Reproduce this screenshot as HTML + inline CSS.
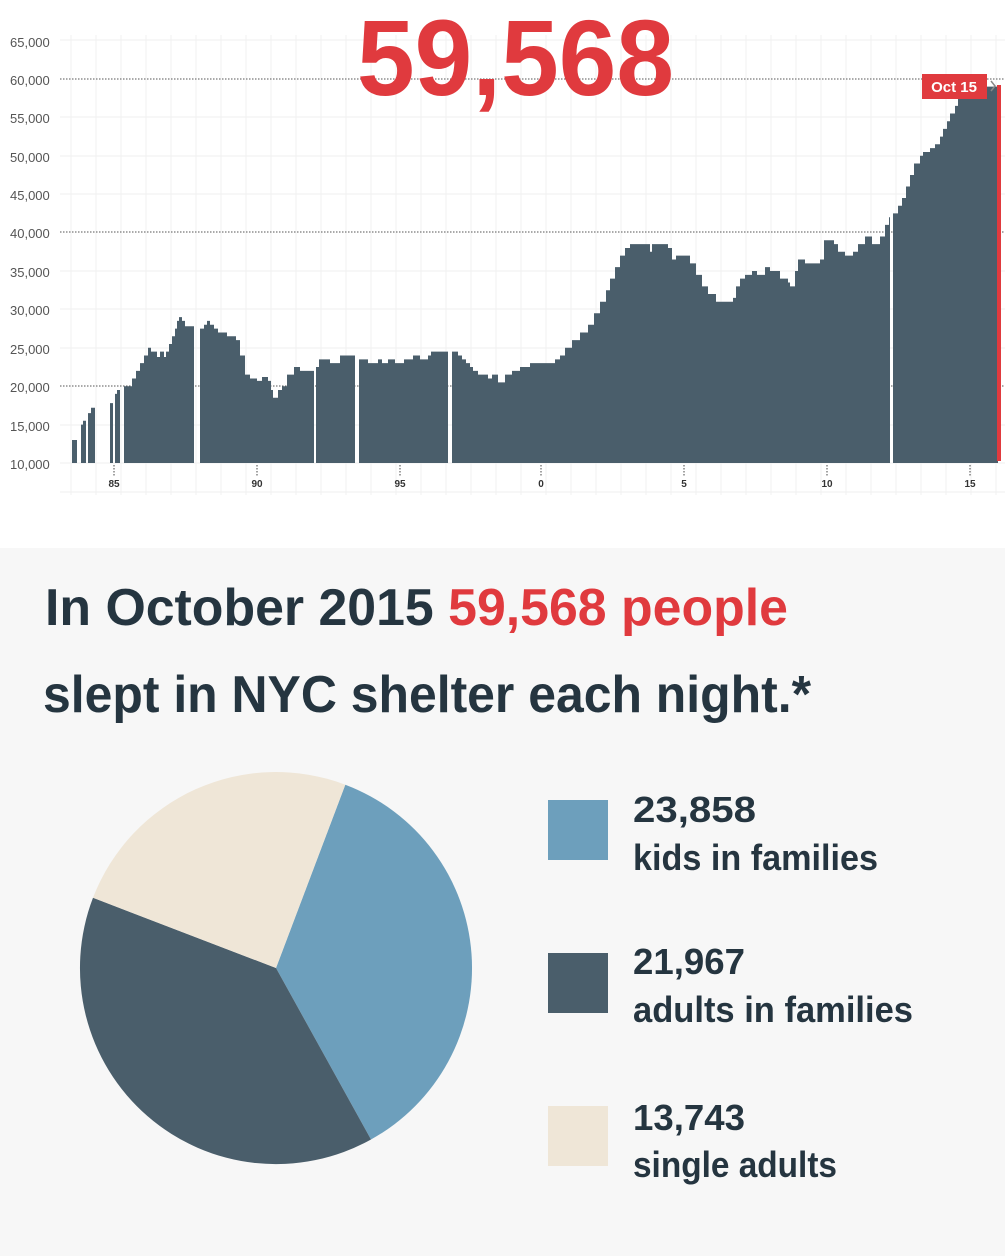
<!DOCTYPE html>
<html><head><meta charset="utf-8"><style>
html,body{margin:0;padding:0;background:#fff;width:1005px;height:1256px;overflow:hidden}
svg{display:block}
</style></head><body>
<svg width="1005" height="1256" viewBox="0 0 1005 1256" xmlns="http://www.w3.org/2000/svg" font-family="Liberation Sans, sans-serif">
<rect x="0" y="548" width="1005" height="708" fill="#f7f7f7"/>
<!-- grid -->
<g stroke="#efefef" stroke-width="1">
<line x1="60" y1="40" x2="1005" y2="40"/><line x1="60" y1="117" x2="1005" y2="117"/><line x1="60" y1="156" x2="1005" y2="156"/><line x1="60" y1="194" x2="1005" y2="194"/><line x1="60" y1="271" x2="1005" y2="271"/><line x1="60" y1="309" x2="1005" y2="309"/><line x1="60" y1="348" x2="1005" y2="348"/><line x1="60" y1="425" x2="1005" y2="425"/><line x1="60" y1="463" x2="1005" y2="463"/><line x1="60" y1="492" x2="1005" y2="492"/>
</g>
<g stroke="#f2f2f2" stroke-width="1" id="vg"></g>
<g stroke="#f2f2f2">
<path d="M71 35V495M96 35V495M121 35V495M146 35V495M171 35V495M196 35V495M221 35V495M246 35V495M271 35V495M296 35V495M321 35V495M346 35V495M371 35V495M396 35V495M421 35V495M446 35V495M471 35V495M496 35V495M521 35V495M546 35V495M571 35V495M596 35V495M621 35V495M646 35V495M671 35V495M696 35V495M721 35V495M746 35V495M771 35V495M796 35V495M821 35V495M846 35V495M871 35V495M896 35V495M921 35V495M946 35V495M971 35V495M996 35V495"/>
</g>
<g stroke="#555" stroke-width="1" stroke-dasharray="1.5,1.5">
<line x1="60" y1="79" x2="1005" y2="79"/><line x1="60" y1="232" x2="1005" y2="232"/><line x1="60" y1="386" x2="1005" y2="386"/>
</g>
<g transform="translate(0,539.8) scale(1,-0.00768)">
<path fill="#4a5e6b" d="M72 10000 V13000 H77 V10000 H81 V15000 H83 V15500 H86 V10000 H88 V16500 H91 V17200 H95 V10000 H110 V17800 H113 V10000 H115 V19000 H117 V19500 H120 V10000 H124 V20000 H132 V21000 H136 V22000 H140 V23000 H144 V24000 H148 V25000 H151 V24500 H157 V23800 H160 V24500 H164 V23800 H166 V24500 H169 V25500 H172 V26500 H175 V27500 H177 V28500 H179 V29000 H182 V28500 H185 V27800 H194 V10000 H200 V27500 H204 V28000 H207 V28500 H210 V28000 H214 V27500 H218 V27000 H227 V26500 H236 V26000 H240 V24000 H245 V21500 H250 V21000 H257 V20700 H262 V21200 H268 V20700 H271 V19500 H273 V18500 H278 V19500 H282 V20000 H287 V21500 H294 V22500 H300 V22000 H314 V10000 H316 V22500 H319 V23500 H330 V23000 H340 V24000 H355 V10000 H359 V23500 H368 V23000 H378 V23500 H382 V23000 H388 V23500 H395 V23000 H404 V23500 H413 V24000 H420 V23500 H428 V24000 H431 V24500 H448 V10000 H452 V24500 H458 V24000 H462 V23500 H466 V23000 H470 V22500 H473 V22000 H478 V21500 H488 V21000 H492 V21500 H498 V20500 H505 V21500 H512 V22000 H520 V22500 H530 V23000 H555 V23500 H560 V24000 H565 V25000 H572 V26000 H580 V27000 H588 V28000 H594 V29500 H600 V31000 H606 V32500 H610 V34000 H615 V35500 H620 V37000 H625 V38000 H630 V38500 H650 V37500 H652 V38500 H668 V38000 H672 V36500 H676 V37000 H690 V36000 H696 V34500 H702 V33000 H708 V32000 H716 V31000 H733 V31500 H736 V33000 H740 V34000 H745 V34500 H752 V35000 H757 V34500 H765 V35500 H770 V35000 H780 V34000 H788 V33500 H790 V33000 H795 V35000 H798 V36500 H805 V36000 H820 V36500 H824 V39000 H834 V38500 H838 V37500 H845 V37000 H853 V37500 H858 V38500 H865 V39500 H872 V38500 H880 V39500 H885 V41000 H889 V42000 H890 V10000 H893 V42500 H898 V43500 H902 V44500 H906 V46000 H910 V47500 H914 V49000 H920 V50000 H923 V50500 H930 V51000 H935 V51500 H940 V52500 H943 V53500 H947 V54500 H950 V55500 H955 V56500 H958 V57500 H962 V58500 H965 V59500 H987 V59000 H998 V10000 Z"/>
</g>
<rect x="997" y="85" width="4" height="376" fill="#e03a3e"/>
<!-- y labels -->
<g fill="#555" font-size="13">
<text x="10" y="47">65,000</text><text x="10" y="85">60,000</text><text x="10" y="123">55,000</text><text x="10" y="162">50,000</text><text x="10" y="200">45,000</text><text x="10" y="238">40,000</text><text x="10" y="277">35,000</text><text x="10" y="315">30,000</text><text x="10" y="354">25,000</text><text x="10" y="392">20,000</text><text x="10" y="431">15,000</text><text x="10" y="469">10,000</text>
</g>
<g stroke="#444" stroke-dasharray="1.5,1.5"><path d="M114 465V476M257 465V476M400 465V476M541 465V476M684 465V476M827 465V476M970 465V476"/></g>
<g fill="#333" font-size="10" font-weight="bold" text-anchor="middle">
<text x="114" y="487">85</text><text x="257" y="487">90</text><text x="400" y="487">95</text><text x="541" y="487">0</text><text x="684" y="487">5</text><text x="827" y="487">10</text><text x="970" y="487">15</text>
</g>
<text x="357" y="95" font-size="108" font-weight="bold" fill="#e03a3e" textLength="317" lengthAdjust="spacingAndGlyphs">59,568</text>
<rect x="922" y="74" width="65" height="25" fill="#e03a3e"/>
<text x="954" y="92" font-size="15" font-weight="bold" fill="#fff" text-anchor="middle">Oct 15</text>
<path d="M991 81l4 5l-4 5" fill="none" stroke="#888" stroke-width="1.5"/>
<!-- heading -->
<text x="45" y="625" font-size="52" font-weight="bold" fill="#253540" textLength="743" lengthAdjust="spacingAndGlyphs">In October 2015 <tspan fill="#e03a3e">59,568 people</tspan></text>
<text x="43" y="712" font-size="52" font-weight="bold" fill="#253540" textLength="768" lengthAdjust="spacingAndGlyphs">slept in NYC shelter each night.*</text>
<!-- pie -->
<path d="M276 968 L345.3 784.7 A196 196 0 0 1 371 1139.5 Z" fill="#6d9fbc"/>
<path d="M276 968 L371 1139.5 A196 196 0 0 1 93 897.8 Z" fill="#4a5e6b"/>
<path d="M276 968 L93 897.8 A196 196 0 0 1 345.3 784.7 Z" fill="#efe6d7"/>
<!-- legend -->
<rect x="548" y="800" width="60" height="60" fill="#6d9fbc"/>
<rect x="548" y="953" width="60" height="60" fill="#4a5e6b"/>
<rect x="548" y="1106" width="60" height="60" fill="#efe6d7"/>
<g fill="#253540" font-weight="bold" font-size="36">
<text x="633" y="822" textLength="123" lengthAdjust="spacingAndGlyphs">23,858</text>
<text x="633" y="870" textLength="245" lengthAdjust="spacingAndGlyphs">kids in families</text>
<text x="633" y="974" textLength="112" lengthAdjust="spacingAndGlyphs">21,967</text>
<text x="633" y="1022" textLength="280" lengthAdjust="spacingAndGlyphs">adults in families</text>
<text x="633" y="1130" textLength="112" lengthAdjust="spacingAndGlyphs">13,743</text>
<text x="633" y="1177" textLength="204" lengthAdjust="spacingAndGlyphs">single adults</text>
</g>
</svg>
</body></html>
